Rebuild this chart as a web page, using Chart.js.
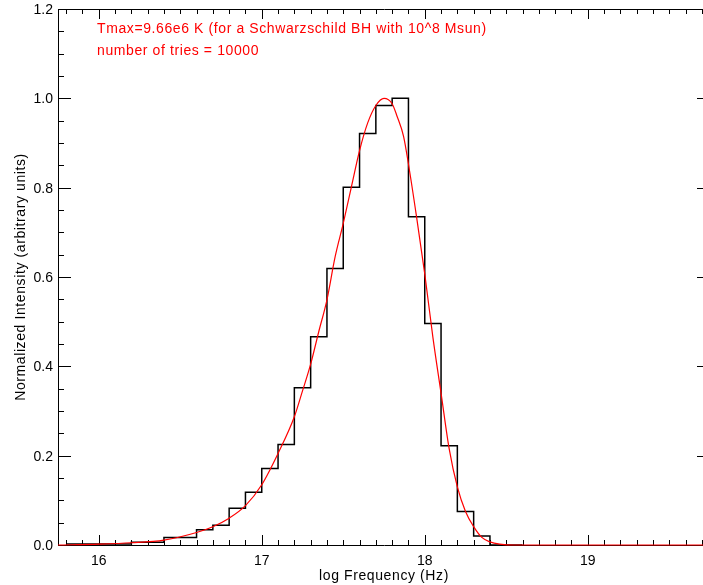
<!DOCTYPE html>
<html><head><meta charset="utf-8">
<script src="https://cdn.jsdelivr.net/npm/chart.js@4.4.0/dist/chart.umd.min.js"></script>
<style>
html,body{margin:0;padding:0;background:#fff;overflow:hidden;width:703px;height:585px}
#wrap{position:absolute;left:0;top:0;width:712px;height:585px}
</style>
</head><body><div id="wrap"><canvas id="c" width="712" height="585"></canvas></div>
<script>
// Histogram bin edges and heights (log Frequency, normalized intensity)
const binEdges  = [15.8, 16.2, 16.4, 16.6, 16.7, 16.8, 16.9, 17.0, 17.1, 17.2, 17.3, 17.4, 17.5, 17.6, 17.7, 17.8, 17.9, 18.0, 18.1, 18.2, 18.3, 18.4, 18.6];
const binValues = [0.002, 0.006, 0.017, 0.034, 0.044, 0.082, 0.118, 0.171, 0.225, 0.352, 0.466, 0.619, 0.801, 0.921, 0.984, 1.0, 0.735, 0.496, 0.222, 0.075, 0.020, 0.0];
// Fitted curve (red)
const fitX = [15.75, 16.0, 16.2, 16.4, 16.6, 16.7, 16.8, 16.9, 17.0, 17.1, 17.2, 17.25, 17.3, 17.35, 17.4, 17.45, 17.5, 17.55, 17.6, 17.65, 17.7, 17.75, 17.8, 17.83, 17.87, 17.9, 17.95, 18.0, 18.05, 18.1, 18.15, 18.2, 18.25, 18.3, 18.35, 18.4, 18.46, 18.55, 19.0, 19.75];
const fitY = [0.000, 0.002, 0.005, 0.011, 0.028, 0.041, 0.060, 0.088, 0.135, 0.205, 0.287, 0.345, 0.405, 0.478, 0.549, 0.645, 0.720, 0.802, 0.883, 0.945, 0.984, 1.000, 0.988, 0.960, 0.915, 0.853, 0.734, 0.607, 0.465, 0.340, 0.215, 0.130, 0.075, 0.041, 0.017, 0.007, 0.002, 0.0, 0.0, 0.0];
// Axes
const xRange = [15.75, 19.75];
const yRange = [0, 1.2];
const xTickValues = [16, 17, 18, 19];
const xTickLabels = ["16", "17", "18", "19"];
const yTickValues = [0, 0.2, 0.4, 0.6, 0.8, 1.0, 1.2];
const yTickLabels = ["0.0", "0.2", "0.4", "0.6", "0.8", "1.0", "1.2"];
const xTitle = "log Frequency (Hz)";
const yTitle = "Normalized Intensity (arbitrary units)";
const notes = ["Tmax=9.66e6 K (for a Schwarzschild BH with 10^8 Msun)", "number of tries = 10000"];

const histPoints = binEdges.map((e, i) => ({x: e, y: i < binValues.length ? binValues[i] : binValues[binValues.length - 1]}));
const fitPoints = fitX.map((v, i) => ({x: v, y: fitY[i]}));

const FONT = '"Liberation Sans", "DejaVu Sans", sans-serif';

const frame = {
  id: 'frame',
  beforeDatasetsDraw(chart) {
    const {ctx, chartArea: a, scales: {x, y}} = chart;
    ctx.save();
    ctx.strokeStyle = '#000';
    ctx.lineWidth = 1;
    ctx.beginPath();
    ctx.rect(a.left + 0.5, a.top + 0.5, a.right - a.left, a.bottom - a.top);
    ctx.stroke();
    ctx.beginPath();
    for (let k = Math.ceil(xRange[0] * 10); k <= Math.floor(xRange[1] * 10); k++) {
      const px = Math.round(x.getPixelForValue(k / 10)) + 0.5;
      const len = (k % 10 === 0) ? 10 : 5;
      ctx.moveTo(px, a.bottom); ctx.lineTo(px, a.bottom - len);
      ctx.moveTo(px, a.top); ctx.lineTo(px, a.top + len);
    }
    for (let k = 0; k <= 24; k++) {
      const py = Math.round(y.getPixelForValue(k * 0.05)) + 0.5;
      const len = (k % 4 === 0) ? 13 : 6;
      ctx.moveTo(a.left, py); ctx.lineTo(a.left + len, py);
      ctx.moveTo(a.right, py); ctx.lineTo(a.right - len, py);
    }
    ctx.stroke();
    ctx.fillStyle = '#000';
    ctx.font = '14px ' + FONT;
    ctx.textAlign = 'right'; ctx.textBaseline = 'middle';
    yTickValues.forEach((v, i) => ctx.fillText(yTickLabels[i], a.left - 5, y.getPixelForValue(v) + 1));
    ctx.textAlign = 'center'; ctx.textBaseline = 'top';
    xTickValues.forEach((v, i) => ctx.fillText(xTickLabels[i], x.getPixelForValue(v), a.bottom + 9));
    ctx.letterSpacing = '0.6px';
    ctx.textBaseline = 'alphabetic';
    ctx.fillText(xTitle, (a.left + a.right) / 2, 580);
    ctx.save();
    ctx.translate(25, (a.top + a.bottom) / 2);
    ctx.rotate(-Math.PI / 2);
    ctx.fillText(yTitle, 0, 0);
    ctx.restore();
    ctx.fillStyle = '#ff0000';
    ctx.textAlign = 'left';
    ctx.fillText(notes[0], 97, 33);
    ctx.fillText(notes[1], 97, 55);
    ctx.restore();
  }
};

new Chart(document.getElementById('c'), {
  type: 'scatter',
  data: {
    datasets: [
      {data: fitPoints, showLine: true, borderColor: '#ff0000', borderWidth: 1.2, pointRadius: 0,
       cubicInterpolationMode: 'monotone', clip: 4},
      {data: histPoints, showLine: true, stepped: 'before', borderColor: '#000', borderWidth: 1.5, pointRadius: 0, clip: 4}
    ]
  },
  options: {
    responsive: false,
    animation: false,
    events: [],
    layout: {padding: {left: 58, top: 9, right: 2, bottom: 40}},
    plugins: {legend: {display: false}, tooltip: {enabled: false}},
    scales: {
      x: {type: 'linear', min: xRange[0], max: xRange[1], display: false},
      y: {type: 'linear', min: yRange[0], max: yRange[1], display: false}
    }
  },
  plugins: [frame]
});
</script>
</body></html>
